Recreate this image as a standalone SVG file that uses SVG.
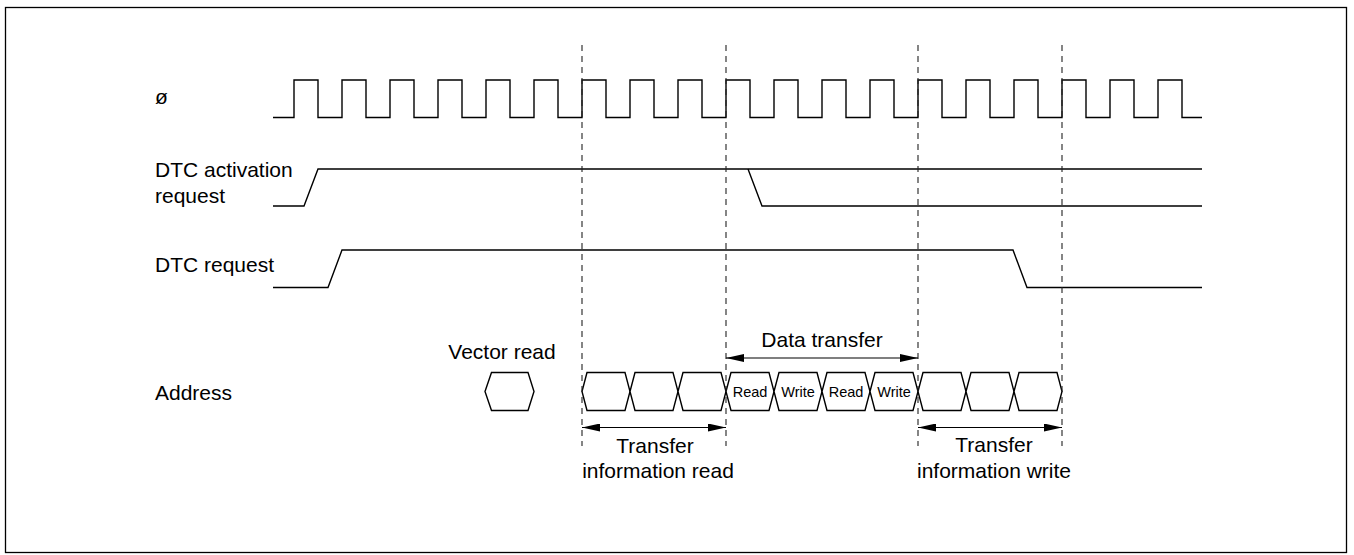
<svg xmlns="http://www.w3.org/2000/svg" width="1354" height="555" viewBox="0 0 1354 555">
<style>
  text { font-family: "Liberation Sans", Arial, sans-serif; fill: #000; }
  .lbl { font-size: 21px; }
  .ctr { font-size: 21px; text-anchor: middle; }
  .sm { font-size: 14.5px; text-anchor: middle; }
  .sig { fill: none; stroke: #000; stroke-width: 1.4; }
  .hex { fill: #fff; stroke: #000; stroke-width: 1.4; }
  .dash { fill: none; stroke: #222; stroke-width: 1.1; stroke-dasharray: 6 5; }
  .arr { fill: none; stroke: #000; stroke-width: 1.2; marker-start: url(#ah); marker-end: url(#ah); }
</style>
<defs>
  <marker id="ah" markerUnits="userSpaceOnUse" viewBox="0 0 18 8" markerWidth="18" markerHeight="8" refX="18" refY="4" orient="auto-start-reverse">
    <path d="M0,0 L18,4 L0,8 Z" fill="#000"/>
  </marker>
</defs>
<rect x="5.5" y="7.5" width="1341" height="545" fill="#fff" stroke="#000" stroke-width="1.3"/>

<g id="clock">
  <text class="lbl" x="155" y="104">ø</text>
  <path class="sig" d="M273,117.5 H294 V80 H318 V117.5 H342 V80 H366 V117.5 H390 V80 H414 V117.5 H438 V80 H462 V117.5 H486 V80 H510 V117.5 H534 V80 H558 V117.5 H582 V80 H606 V117.5 H630 V80 H654 V117.5 H678 V80 H702 V117.5 H726 V80 H750 V117.5 H774 V80 H798 V117.5 H822 V80 H846 V117.5 H870 V80 H894 V117.5 H918 V80 H942 V117.5 H966 V80 H990 V117.5 H1014 V80 H1038 V117.5 H1062 V80 H1086 V117.5 H1110 V80 H1134 V117.5 H1158 V80 H1182 V117.5 H1202"/>
</g>

<g id="dtc-activation-request">
  <text class="lbl" x="155" y="177">DTC activation</text>
  <text class="lbl" x="155" y="203">request</text>
  <path class="sig" d="M273,206 H304 L318,169 H1202"/>
  <path class="sig" d="M748,169 L762,206 H1202"/>
</g>

<g id="dtc-request">
  <text class="lbl" x="155" y="272">DTC request</text>
  <path class="sig" d="M273,287.5 H328 L342,250 H1013 L1027,287.5 H1202"/>
</g>

<g id="address">
  <text class="lbl" x="155" y="400">Address</text>
</g>

<g id="vector-read">
  <text class="ctr" x="502" y="359">Vector read</text>
  <polygon class="hex" points="485,391.5 491.5,372.5 528,372.5 534,391.5 528,410.5 491.5,410.5"/>
</g>

<g id="transfer-info-read-cycles">
  <polygon class="hex" points="582,391.5 587,372.5 625,372.5 630,391.5 625,410.5 587,410.5"/>
  <polygon class="hex" points="630,391.5 635,372.5 673,372.5 678,391.5 673,410.5 635,410.5"/>
  <polygon class="hex" points="678,391.5 683,372.5 721,372.5 726,391.5 721,410.5 683,410.5"/>
</g>

<g id="data-transfer-cycles">
  <polygon class="hex" points="726,391.5 731,372.5 769,372.5 774,391.5 769,410.5 731,410.5"/>
  <polygon class="hex" points="774,391.5 779,372.5 817,372.5 822,391.5 817,410.5 779,410.5"/>
  <polygon class="hex" points="822,391.5 827,372.5 865,372.5 870,391.5 865,410.5 827,410.5"/>
  <polygon class="hex" points="870,391.5 875,372.5 913,372.5 918,391.5 913,410.5 875,410.5"/>
  <text class="sm" x="750" y="396.5">Read</text>
  <text class="sm" x="798" y="396.5">Write</text>
  <text class="sm" x="846" y="396.5">Read</text>
  <text class="sm" x="894" y="396.5">Write</text>
</g>

<g id="transfer-info-write-cycles">
  <polygon class="hex" points="918,391.5 923,372.5 961,372.5 966,391.5 961,410.5 923,410.5"/>
  <polygon class="hex" points="966,391.5 971,372.5 1009,372.5 1014,391.5 1009,410.5 971,410.5"/>
  <polygon class="hex" points="1014,391.5 1019,372.5 1057,372.5 1062,391.5 1057,410.5 1019,410.5"/>
</g>

<g id="labels">
  <text class="ctr" x="822" y="347">Data transfer</text>
  <text class="ctr" x="655" y="453">Transfer</text>
  <text class="ctr" x="658" y="478">information read</text>
  <text class="ctr" x="994" y="452">Transfer</text>
  <text class="ctr" x="994" y="478">information write</text>
</g>

<g id="connectors">
  <line class="dash" x1="582" y1="45" x2="582" y2="446"/>
  <line class="dash" x1="726" y1="45" x2="726" y2="446"/>
  <line class="dash" x1="918" y1="45" x2="918" y2="446"/>
  <line class="dash" x1="1062" y1="45" x2="1062" y2="446"/>
  <line class="arr" x1="726" y1="358" x2="918" y2="358"/>
  <line class="arr" x1="582" y1="427.5" x2="726" y2="427.5"/>
  <line class="arr" x1="918" y1="427.5" x2="1062" y2="427.5"/>
</g>
</svg>
